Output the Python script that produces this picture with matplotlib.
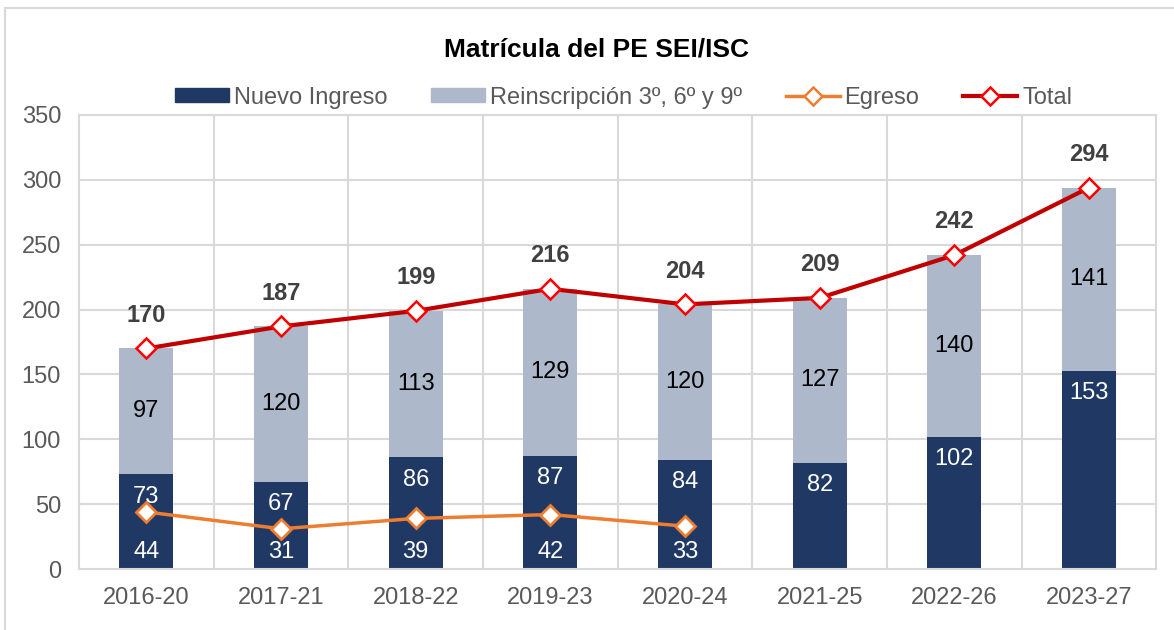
import matplotlib.pyplot as plt
from matplotlib.patches import Rectangle
from matplotlib.lines import Line2D
from matplotlib.transforms import blended_transform_factory

plt.rcParams["font.family"] = ["Liberation Sans", "DejaVu Sans"]

# Datos
periodos = ["2016-20", "2017-21", "2018-22", "2019-23", "2020-24", "2021-25", "2022-26", "2023-27"]
nuevo_ingreso = [73, 67, 86, 87, 84, 82, 102, 153]
reinscripcion = [97, 120, 113, 129, 120, 127, 140, 141]
total = [170, 187, 199, 216, 204, 209, 242, 294]
egreso = [44, 31, 39, 42, 33]

AZUL = "#203864"
GRIS = "#ADB9CA"
NARANJA = "#ED7D31"
ROJO = "#C00000"
TEXTO = "#595959"

fig = plt.figure(figsize=(11.74, 6.30), dpi=100)
ax = fig.add_axes([0.0673, 0.0968, 0.9177, 0.7207])

x = list(range(len(periodos)))
ancho = 0.4
ax.bar(x, nuevo_ingreso, width=ancho, color=AZUL, zorder=2)
ax.bar(x, reinscripcion, width=ancho, bottom=nuevo_ingreso, color=GRIS, zorder=2)

ax.plot(range(len(egreso)), egreso, color=NARANJA, lw=2.5, marker="D", ms=10,
        mfc="white", mec=NARANJA, mew=2, zorder=4)
ax.plot(x, total, color=ROJO, lw=3, marker="D", ms=10,
        mfc="white", mec="#FF0000", mew=1.8, zorder=5)

# Etiquetas
for i, v in enumerate(nuevo_ingreso):
    ax.annotate(str(v), (i, v), xytext=(0, -16), textcoords="offset points",
                ha="center", va="center", color="white", fontsize=17, zorder=6)
for i, (a, b) in enumerate(zip(nuevo_ingreso, reinscripcion)):
    ax.text(i, a + b / 2, str(b), ha="center", va="center", color="black",
            fontsize=17, zorder=6)
for i, v in enumerate(total):
    ax.annotate(str(v), (i, v), xytext=(0, 24), textcoords="offset points",
                ha="center", va="center", color="#404040", fontsize=17,
                fontweight="bold", zorder=6)
trans = blended_transform_factory(ax.transData, ax.transAxes)
for i, v in enumerate(egreso):
    ax.text(i, 0.037, str(v), transform=trans, ha="center", va="center",
            color="white", fontsize=17, zorder=6)

ax.set_xlim(-0.5, len(periodos) - 0.5)
ax.set_ylim(0, 350)
ax.set_yticks(range(0, 351, 50))
ax.set_xticks(x)
ax.set_xticklabels(periodos)
ax.tick_params(axis="both", length=0, labelsize=17, colors=TEXTO)
ax.tick_params(axis="x", pad=13)
ax.tick_params(axis="y", pad=13)

for y in range(50, 351, 50):
    ax.axhline(y, color="#D9D9D9", lw=1.5, zorder=1)
for xv in x[:-1]:
    ax.axvline(xv + 0.5, color="#D9D9D9", lw=1.5, zorder=1)
for s in ax.spines.values():
    s.set_color("#D9D9D9")
    s.set_linewidth(1.5)

fig.suptitle("Matrícula del PE SEI/ISC", x=0.508, y=0.94, fontsize=19,
             fontweight="bold", color="black")

handles = [
    Rectangle((0, 0), 1, 1, color=AZUL),
    Rectangle((0, 0), 1, 1, color=GRIS),
    Line2D([], [], color=NARANJA, lw=2.5, marker="D", ms=9, mfc="white", mec=NARANJA, mew=1.8),
    Line2D([], [], color=ROJO, lw=3, marker="D", ms=9, mfc="white", mec="#FF0000", mew=1.8),
]
etiquetas = ["Nuevo Ingreso", "Reinscripción 3º, 6º y 9º", "Egreso", "Total"]
leg = fig.legend(handles, etiquetas, loc="center", bbox_to_anchor=(0.531, 0.845),
                 ncol=4, frameon=False, fontsize=17, handlelength=2.3,
                 handleheight=0.55, handletextpad=0.2, columnspacing=1.85,
                 labelcolor=TEXTO)

# Borde de la figura
fig.patches.append(Rectangle((5 / 1174, -0.1), 1.2, 0.1 + (630 - 8) / 630,
                             transform=fig.transFigure, fill=False,
                             edgecolor="#D9D9D9", lw=1.5))

fig.savefig("out.png", dpi=100)
